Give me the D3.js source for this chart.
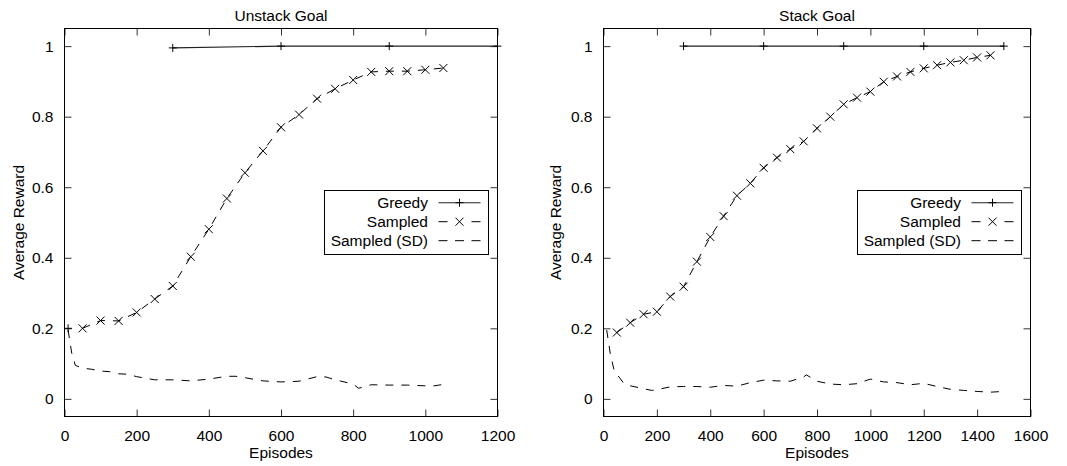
<!DOCTYPE html>
<html><head><meta charset="utf-8">
<script src="https://cdn.jsdelivr.net/npm/d3@7"></script>
<style>
body{margin:0;background:#fff}
svg{display:block}
text{font-family:"Liberation Sans",Arial,Helvetica,sans-serif}
</style>
</head><body>
<svg id="c" width="1067" height="466"></svg>
<script>
// ---------- data ----------
const titles = ["Unstack Goal", "Stack Goal"];
const xAxisLabel = "Episodes";
const yAxisLabel = "Average Reward";
const legendLabels = ["Greedy", "Sampled", "Sampled (SD)"];
const yTicks = [0, 0.2, 0.4, 0.6, 0.8, 1];
const leftXTicks = [0, 200, 400, 600, 800, 1000, 1200];
const rightXTicks = [0, 200, 400, 600, 800, 1000, 1200, 1400, 1600];

// Unstack Goal
const leftGreedyX = [300, 600, 900, 1200];
const leftGreedyY = [0.995, 1.0, 1.0, 1.0];
const leftGreedyExtraX = [10];
const leftGreedyExtraY = [0.2];
const leftSampledX = [50, 100, 150, 200, 250, 300, 350, 400, 450, 500, 550, 600, 650, 700, 750, 800, 850, 900, 950, 1000, 1050];
const leftSampledY = [0.200, 0.222, 0.221, 0.245, 0.283, 0.320, 0.403, 0.481, 0.568, 0.641, 0.703, 0.770, 0.806, 0.851, 0.879, 0.904, 0.927, 0.929, 0.929, 0.933, 0.938];
const leftSdX = [10, 20, 30, 50, 75, 100, 125, 150, 175, 200, 250, 300, 350, 400, 450, 475, 500, 550, 600, 650, 700, 725, 750, 800, 815, 850, 900, 950, 1000, 1025, 1050];
const leftSdY = [0.195, 0.13, 0.095, 0.087, 0.084, 0.079, 0.077, 0.071, 0.070, 0.063, 0.054, 0.054, 0.051, 0.056, 0.064, 0.064, 0.060, 0.051, 0.048, 0.050, 0.063, 0.062, 0.054, 0.042, 0.030, 0.040, 0.039, 0.039, 0.037, 0.037, 0.041];

// Stack Goal
const rightGreedyX = [300, 600, 900, 1200, 1500];
const rightGreedyY = [1.0, 1.0, 1.0, 1.0, 1.0];
const rightSampledX = [50, 100, 150, 200, 250, 300, 350, 400, 450, 500, 550, 600, 650, 700, 750, 800, 850, 900, 950, 1000, 1050, 1100, 1150, 1200, 1250, 1300, 1350, 1400, 1450];
const rightSampledY = [0.188, 0.216, 0.240, 0.247, 0.290, 0.318, 0.389, 0.459, 0.518, 0.576, 0.611, 0.655, 0.684, 0.708, 0.730, 0.767, 0.800, 0.835, 0.854, 0.871, 0.899, 0.914, 0.927, 0.937, 0.946, 0.954, 0.960, 0.968, 0.974];
const rightSdX = [12, 25, 40, 50, 75, 100, 150, 180, 200, 250, 300, 350, 400, 450, 500, 550, 600, 650, 700, 750, 760, 800, 850, 900, 950, 1000, 1050, 1100, 1150, 1200, 1250, 1300, 1350, 1400, 1450, 1500];
const rightSdY = [0.195, 0.13, 0.08, 0.07, 0.045, 0.037, 0.029, 0.024, 0.026, 0.034, 0.035, 0.035, 0.033, 0.038, 0.036, 0.046, 0.053, 0.051, 0.050, 0.062, 0.068, 0.050, 0.042, 0.040, 0.043, 0.056, 0.048, 0.046, 0.040, 0.044, 0.035, 0.027, 0.024, 0.021, 0.019, 0.021];

// ---------- drawing ----------
const FONT = 15.5;
const svg = d3.select("#c");
const zip = (xs, ys) => xs.map((x, i) => ({x, y: ys[i]}));

const panels = [
  {title: titles[0], left: 64.5, right: 497.5, xMax: 1200, xTicks: leftXTicks, yLabelX: 24,
   greedy: zip(leftGreedyX, leftGreedyY), greedyExtra: zip(leftGreedyExtraX, leftGreedyExtraY),
   sampled: zip(leftSampledX, leftSampledY), sd: zip(leftSdX, leftSdY)},
  {title: titles[1], left: 603.5, right: 1030.5, xMax: 1600, xTicks: rightXTicks, yLabelX: 561,
   greedy: zip(rightGreedyX, rightGreedyY), greedyExtra: [],
   sampled: zip(rightSampledX, rightSampledY), sd: zip(rightSdX, rightSdY)}
];
const plotTop = 28.5, plotBottom = 416.5;

function plus(g, cx, cy, r) {
  g.append("path").attr("d", `M${cx - r},${cy}H${cx + r}M${cx},${cy - r}V${cy + r}`)
    .attr("stroke", "#000").attr("stroke-width", 1).attr("fill", "none");
}
function cross(g, cx, cy, r) {
  g.append("path").attr("d", `M${cx - r},${cy - r}L${cx + r},${cy + r}M${cx - r},${cy + r}L${cx + r},${cy - r}`)
    .attr("stroke", "#000").attr("stroke-width", 1).attr("fill", "none");
}

panels.forEach(p => {
  const x = d3.scaleLinear().domain([0, p.xMax]).range([p.left, p.right]);
  const y = d3.scaleLinear().domain([-0.05, 1.05]).range([plotBottom, plotTop]);
  const g = svg.append("g");

  const styleAxis = sel => {
    sel.select(".domain").remove();
    sel.selectAll(".tick line").attr("stroke", "#333");
    sel.selectAll("text").attr("font-size", FONT).attr("fill", "#000")
      .attr("font-family", '"Liberation Sans",Arial,Helvetica,sans-serif');
  };
  g.append("g").attr("transform", `translate(0,${plotBottom})`)
    .call(d3.axisBottom(x).tickValues(p.xTicks).tickFormat(d3.format("d")).tickSize(-7).tickPadding(13))
    .call(styleAxis);
  g.append("g").attr("transform", `translate(0,${plotTop})`)
    .call(d3.axisTop(x).tickValues(p.xTicks).tickFormat("").tickSize(-7))
    .call(styleAxis);
  g.append("g").attr("transform", `translate(${p.left},0)`)
    .call(d3.axisLeft(y).tickValues(yTicks).tickFormat(d => d === 0 || d === 1 ? d3.format("d")(d) : d3.format(".1f")(d)).tickSize(-7).tickPadding(11))
    .call(styleAxis);
  g.append("g").attr("transform", `translate(${p.right},0)`)
    .call(d3.axisRight(y).tickValues(yTicks).tickFormat("").tickSize(-7))
    .call(styleAxis);

  // border
  g.append("rect").attr("x", p.left).attr("y", plotTop)
    .attr("width", p.right - p.left).attr("height", plotBottom - plotTop)
    .attr("fill", "none").attr("stroke", "#000").attr("stroke-width", 1);

  // titles / labels
  const cx = (p.left + p.right) / 2;
  g.append("text").attr("x", cx).attr("y", 20.5).attr("text-anchor", "middle")
    .attr("font-size", FONT).text(p.title);
  g.append("text").attr("x", cx).attr("y", 458).attr("text-anchor", "middle")
    .attr("font-size", FONT).text(xAxisLabel);
  g.append("text").attr("transform", `translate(${p.yLabelX},222.5) rotate(-90)`)
    .attr("text-anchor", "middle").attr("font-size", FONT).text(yAxisLabel);

  const line = d3.line().x(d => x(d.x)).y(d => y(d.y));

  // SD
  g.append("path").datum(p.sd).attr("d", line).attr("fill", "none")
    .attr("stroke", "#000").attr("stroke-width", 1).attr("stroke-dasharray", "8,8");
  // Sampled
  g.append("path").datum(p.sampled).attr("d", line).attr("fill", "none")
    .attr("stroke", "#000").attr("stroke-width", 1).attr("stroke-dasharray", "8,8");
  p.sampled.forEach(d => cross(g, x(d.x), y(d.y), 4));
  // Greedy
  g.append("path").datum(p.greedy).attr("d", line).attr("fill", "none")
    .attr("stroke", "#222").attr("stroke-width", 1.1);
  p.greedy.concat(p.greedyExtra).forEach(d => plus(g, x(d.x), y(d.y), 4));

  // legend
  const lw = 164, lh = 64;
  const lx = p.right - 9 - lw, ly = 190.5;
  const lg = g.append("g");
  lg.append("rect").attr("x", lx).attr("y", ly).attr("width", lw).attr("height", lh)
    .attr("fill", "#fff").attr("stroke", "#000").attr("stroke-width", 1);
  const rowY = [202.7, 221.7, 240.7];
  const textR = lx + lw - 60.5, s0 = lx + lw - 50, s1 = lx + lw - 8;
  legendLabels.forEach((lab, i) => {
    lg.append("text").attr("x", textR).attr("y", rowY[i] + 5.5).attr("text-anchor", "end")
      .attr("font-size", FONT).text(lab);
  });
  lg.append("line").attr("x1", s0).attr("x2", s1).attr("y1", rowY[0]).attr("y2", rowY[0])
    .attr("stroke", "#222").attr("stroke-width", 1.1);
  plus(lg, (s0 + s1) / 2, rowY[0], 4);
  lg.append("line").attr("x1", s0).attr("x2", s1).attr("y1", rowY[1]).attr("y2", rowY[1])
    .attr("stroke", "#000").attr("stroke-dasharray", "9,24");
  cross(lg, (s0 + s1) / 2, rowY[1], 4);
  lg.append("line").attr("x1", s0).attr("x2", s1).attr("y1", rowY[2]).attr("y2", rowY[2])
    .attr("stroke", "#000").attr("stroke-dasharray", "9,7.5");
});
</script>
</body></html>
